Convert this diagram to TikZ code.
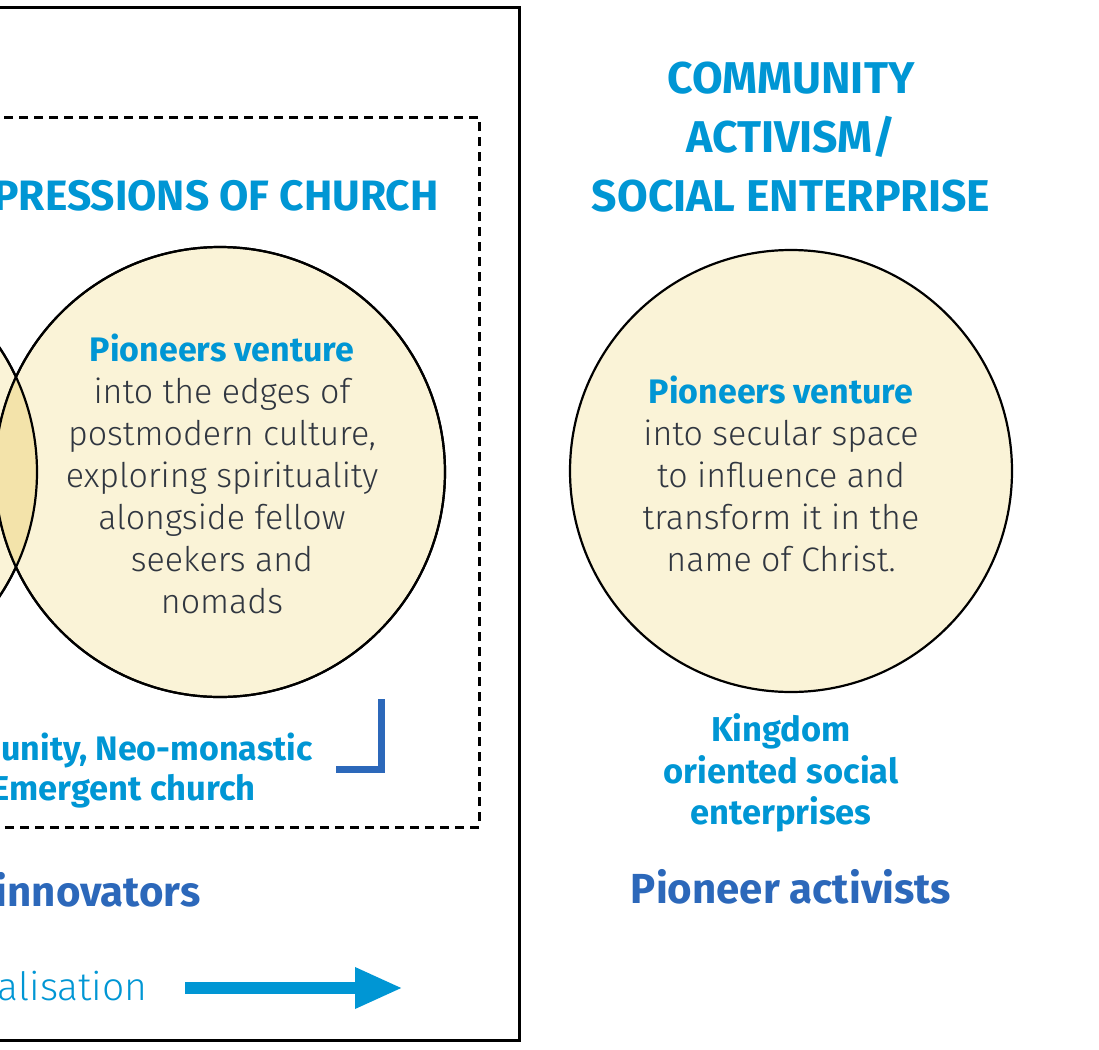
\documentclass[tikz,border=0pt]{standalone}
\usepackage{fontspec}
\setmainfont{Fira Sans}
\newfontfamily\lightfont{Fira Sans Light}
\usetikzlibrary{arrows.meta,positioning}
\definecolor{cyan-pio}{RGB}{0,150,212}
\definecolor{blue-pio}{RGB}{44,104,186}
\definecolor{grey-pio}{RGB}{48,54,64}
\definecolor{cream}{RGB}{250,243,215}
\definecolor{lens}{RGB}{243,227,170}

\begin{document}
\begin{tikzpicture}[x=1pt, y=-1pt, node distance=18pt,
	   v/.style={draw, circle, line width=2.2pt, fill=cream, minimum size=450pt, inner sep=0pt},
	   ttl/.style={text=cyan-pio, font=\bfseries\fontsize{44.5}{59}\selectfont, align=center},
	   txt/.style={text=grey-pio, font=\lightfont\fontsize{34}{42}\selectfont, align=center},
	   lbl/.style={text=cyan-pio, font=\bfseries\fontsize{34.5}{41.5}\selectfont, align=center},
	   who/.style={text=blue-pio, font=\bfseries\fontsize{42}{48}\selectfont}]
	  \useasboundingbox (0,0) rectangle (1099,1049);
	  \clip (0,0) rectangle (1099,1049);
	  \draw[line width=3pt] (-20,8) rectangle (519,1040);
	  \draw[line width=3pt, dash pattern=on 9pt off 6pt] (-20,117) rectangle (479,827);
	  \node[ttl, font=\bfseries\fontsize{42.5}{59}\selectfont, anchor=east] (fe) at (442,196) {PRESSIONS OF CHURCH};
	  \node[v] (lc) at (-188,472) {};
	  \node[v] (fc) at (220,472) {};
	  \begin{scope}
	    \clip (lc.center) circle (225);
	    \fill[lens] (fc.center) circle (225);
	  \end{scope}
	  \draw[line width=2.2pt] (lc.center) circle (225) (fc.center) circle (225);
	  \node[txt] (ft) at (222,474) {{\normalfont\bfseries\color{cyan-pio}Pioneers venture}\\ into the edges of\\ postmodern culture,\\ exploring spirituality\\ alongside fellow\\ seekers and\\ nomads};
	  \draw[blue-pio, line width=7pt] (336,769) -- (381,769) -- (381,699);
	  \node[lbl, font=\bfseries\fontsize{34}{41.5}\selectfont, anchor=east] (nm) at (316,750) {unity, Neo-monastic};
	  \node[lbl, anchor=east] (em) at (259,791) {Emergent church};
	  \node[who, anchor=east] (pi) at (204,890) {innovators};
	  \node[text=cyan-pio, font=\lightfont\fontsize{39}{45}\selectfont, anchor=east] (mi) at (151,986) {alisation};
	  \coordinate (a0) at (185,988);
	  \coordinate (a1) at (403,988);
	  \draw[cyan-pio, line width=12pt, -{Triangle[length=48pt,width=38pt]}] (a0) -- (a1);
	  \node[ttl] (ca) at (791,137) {COMMUNITY\\ ACTIVISM/\\ SOCIAL ENTERPRISE};
	  \node[v, minimum size=442pt] (ac) at (791,471) {};
	  \node[txt] (at) at (781,474) {{\normalfont\bfseries\color{cyan-pio}Pioneers venture}\\ into secular space\\ to influence and\\ transform it in the\\ name of Christ.};
	  \node[lbl, below=17pt of ac.south -| at] (ko) {Kingdom\\ oriented social\\ enterprises};
	  \node[who, below=30pt of ko, xshift=10pt] (pa) {Pioneer activists};
	\end{tikzpicture}
\end{document}
